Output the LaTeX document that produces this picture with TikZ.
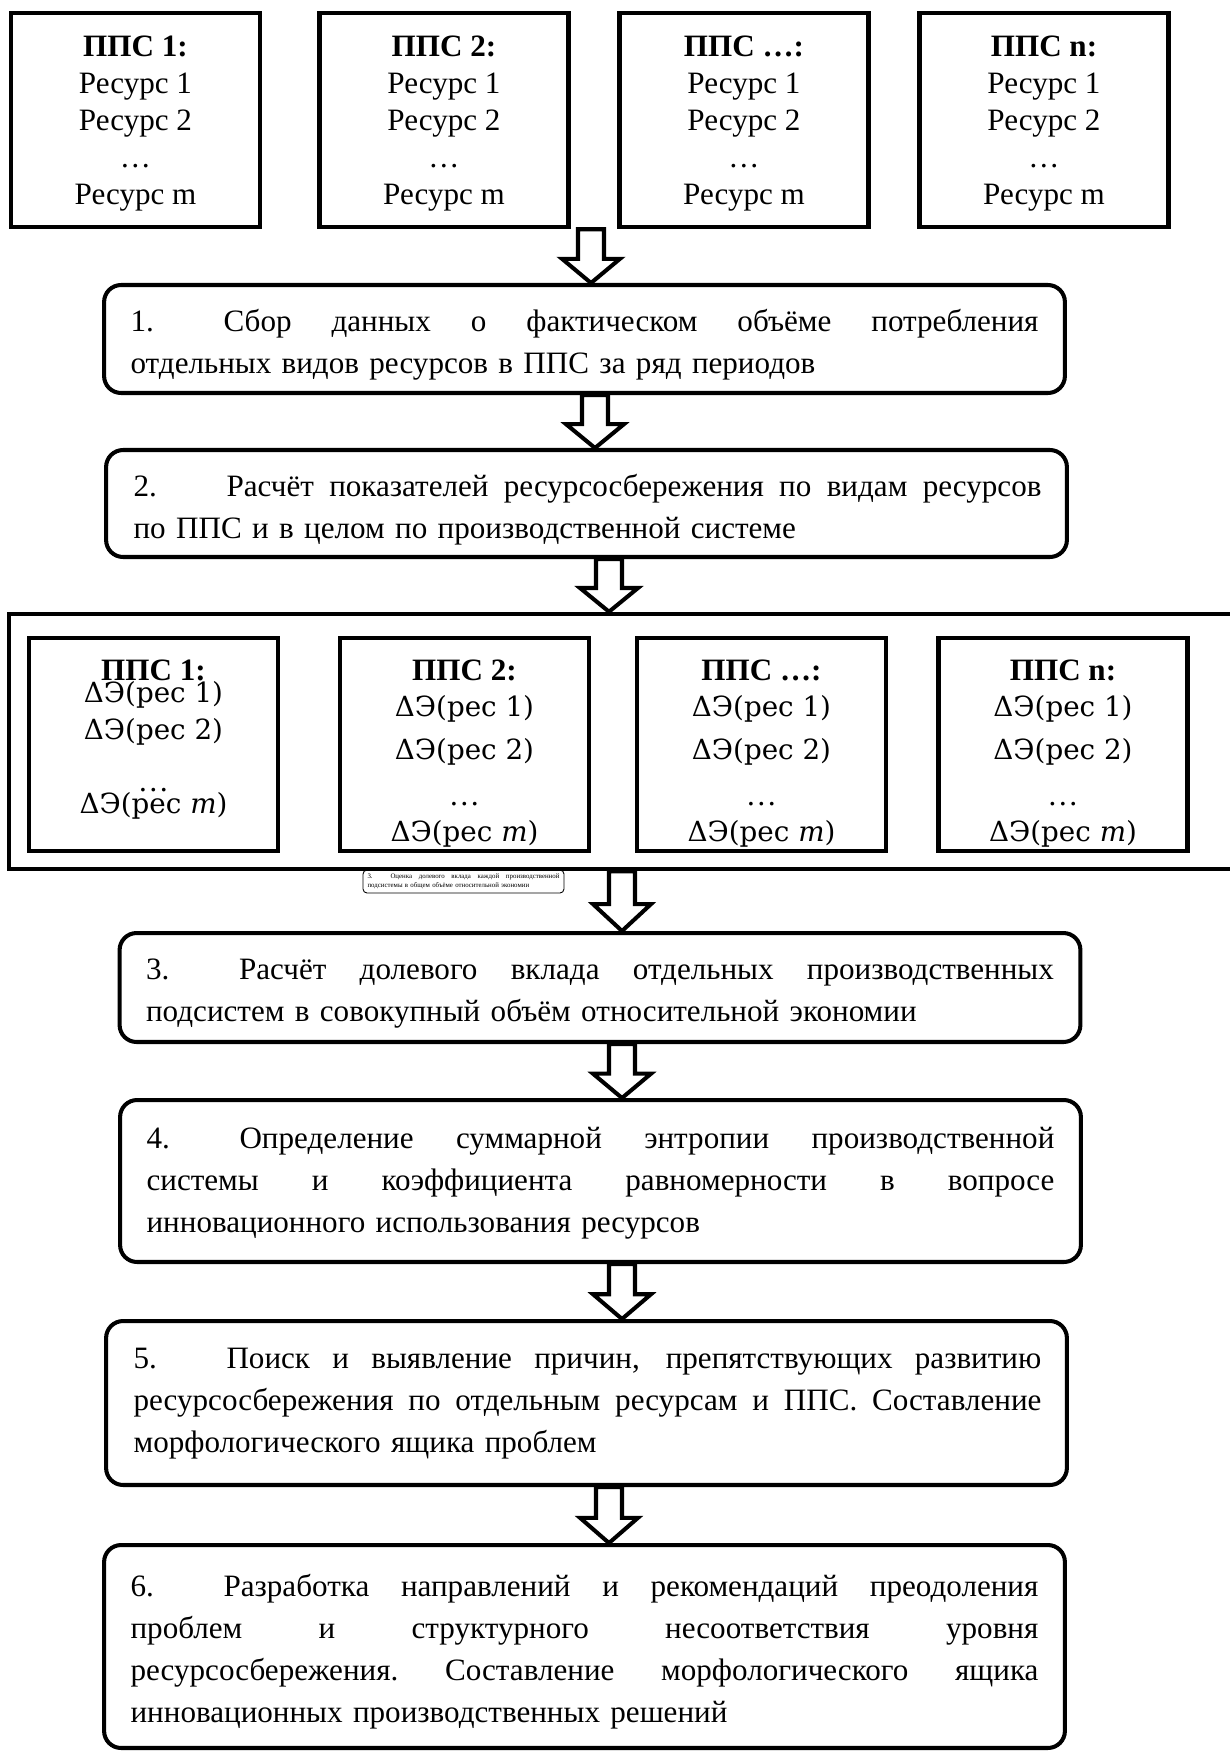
\documentclass[tikz,border=0pt]{standalone}
\usepackage{fontspec}
\setmainfont{Liberation Serif}
\newfontfamily\ecofont{DejaVu Serif}
\usetikzlibrary{calc,positioning}

% justified line and numbered start of a step
\newcommand\jline[2][18.16cm]{\makebox[#1][s]{\spaceskip=0.25em plus 1fil\xspaceskip=\spaceskip #2}}
\newcommand\stepno[1]{\makebox[1.86cm][l]{#1}}

% block arrow: x position, upper anchor, lower anchor
\newcommand\blockarrow[3]{%
  \draw[blockarr] let \p1=(#2), \p2=(#3), \p3=(#1,0), \p4=($(#2)!0.55!(#3)$) in
    (\x3-7.4pt,\y1) -- (\x3+7.4pt,\y1) -- (\x3+7.4pt,\y4) -- (\x3+16.5pt,\y4)
    -- (\x3,\y2) -- (\x3-16.5pt,\y4) -- (\x3-7.4pt,\y4) -- cycle;}

\tikzset{
  ppsbox/.style={draw, line width=2.6pt, minimum width=4.98cm, minimum height=4.28cm,
    inner sep=0pt, align=center, font=\fontsize{17.7}{21.05}\selectfont},
  ecobox/.style={draw, line width=2.8pt, minimum width=4.98cm, minimum height=4.26cm, inner sep=0pt},
  ecoline/.style={inner sep=0pt, font=\ecofont\fontsize{15.8}{18}\selectfont},
  ecotitle/.style={inner sep=0pt, font=\bfseries\fontsize{17.7}{21}\selectfont},
  ecodots/.style={inner sep=0pt, anchor=base, font=\fontsize{17.7}{21}\selectfont},
  stepbox/.style={draw, line width=2.3pt, rounded corners=0.34cm, minimum width=19.22cm, inner sep=0pt},
  steptext/.style={inner sep=0pt, text width=18.16cm, align=left, font=\fontsize{17.7}{24}\selectfont},
  notebox/.style={draw, line width=0.5pt, rounded corners=0.08cm, minimum width=4.02cm,
    minimum height=0.46cm, inner xsep=0.09cm, inner ysep=0pt, text width=3.84cm, align=left,
    font=\fontsize{3.9}{5.1}\selectfont},
  blockarr/.style={draw, line width=2.3pt, fill=white, line join=miter},
}

\begin{document}
\begin{tikzpicture}[x=0.02cm, y=-0.02cm]
\useasboundingbox (0,0) rectangle (1230,1751);

% subsystems with their resources
\foreach \i/\cx/\lbl in {1/135.5/1, 2/444/2, 3/744/…, 4/1044/n}
  \node[ppsbox] (pps\i) at (\cx,120)
    {\rule{0pt}{15.8pt}\textbf{ППС \lbl:}\\Ресурс 1\\Ресурс 2\\…\\Ресурс m};

\node[stepbox, minimum height=2.16cm] (s1) at (584.5,339) {};
\node[steptext] (s1t) at ($(s1.center)+(0,5.6)$)
  {\jline{\stepno{1.}Сбор данных о фактическом объёме потребления}\\
   отдельных видов ресурсов в ППС за ряд периодов};
\node[stepbox, minimum height=2.14cm] (s2) at (586.5,503.5) {};
\node[steptext] (s2t) at ($(s2.center)+(1,6.5)$)
  {\jline{\stepno{2.}Расчёт показателей ресурсосбережения по видам ресурсов}\\
   по ППС и в целом по производственной системе};

% frame with the savings per subsystem
\node[draw, line width=2.6pt, minimum width=25.2cm, minimum height=5.1cm] (ecoframe) at (639,741.5) {};
\foreach \i/\cx/\lbl/\ya/\yb/\yc/\yd in {1/153.5/1/695/732/791/806, 2/464.5/2/709/752/805/834,
    3/761.5/…/709/752/805/834, 4/1063/n/709/752/805/834} {
  \node[ecobox] (eco\i) at (\cx,744.5) {};
  \node[ecotitle] (ecot\i) at (\cx,670) {ППС \lbl:};
  \node[ecoline] (ecoa\i) at (\cx,\ya) {ΔЭ(рес 1)};
  \node[ecoline] (ecob\i) at (\cx,\yb) {ΔЭ(рес 2)};
  \node[ecodots] (ecoc\i) at (\cx,\yc) {…};
  \node[ecoline] (ecod\i) at (\cx,\yd) {ΔЭ(рес {\itshape m})};
}

\node[notebox] (note) at (463.5,881.5)
  {\jline[3.84cm]{\makebox[0.46cm][l]{3.}Оценка долевого вклада каждой производственной}\\
   подсистемы в общем объёме относительной экономии};

\node[stepbox, minimum height=2.18cm] (s3) at (600,987.5) {};
\node[steptext] (s3t) at ($(s3.center)+(0,6.2)$)
  {\jline{\stepno{3.}Расчёт долевого вклада отдельных производственных}\\
   подсистем в совокупный объём относительной экономии};
\node[stepbox, minimum height=3.24cm] (s4) at (600.5,1181) {};
\node[steptext] (s4t) at ($(s4.center)+(0,2)$)
  {\jline{\stepno{4.}Определение суммарной энтропии производственной}\\
   \jline{системы и коэффициента равномерности в вопросе}\\
   инновационного использования ресурсов};
\node[stepbox, minimum height=3.28cm] (s5) at (586.5,1403) {};
\node[steptext] (s5t) at ($(s5.center)+(1,0.7)$)
  {\jline{\stepno{5.}Поиск и выявление причин, препятствующих развитию}\\
   \jline{ресурсосбережения по отдельным ресурсам и ППС. Составление}\\
   морфологического ящика проблем};
\node[stepbox, minimum height=4.06cm] (s6) at (584.5,1646.5) {};
\node[steptext] (s6t) at ($(s6.center)+(0,5.3)$)
  {\jline{\stepno{6.}Разработка направлений и рекомендаций преодоления}\\
   \jline{проблем и структурного несоответствия уровня}\\
   \jline{ресурсосбережения. Составление морфологического ящика}\\
   инновационных производственных решений};

% arrows between the stages
\blockarrow{591}{pps2.south}{s1.north}
\blockarrow{595}{s1.south}{s2.north}
\blockarrow{609}{s2.south}{ecoframe.north}
\blockarrow{622}{ecoframe.south}{s3.north}
\blockarrow{622}{s3.south}{s4.north}
\blockarrow{622}{s4.south}{s5.north}
\blockarrow{609}{s5.south}{s6.north}

\end{tikzpicture}
\end{document}
